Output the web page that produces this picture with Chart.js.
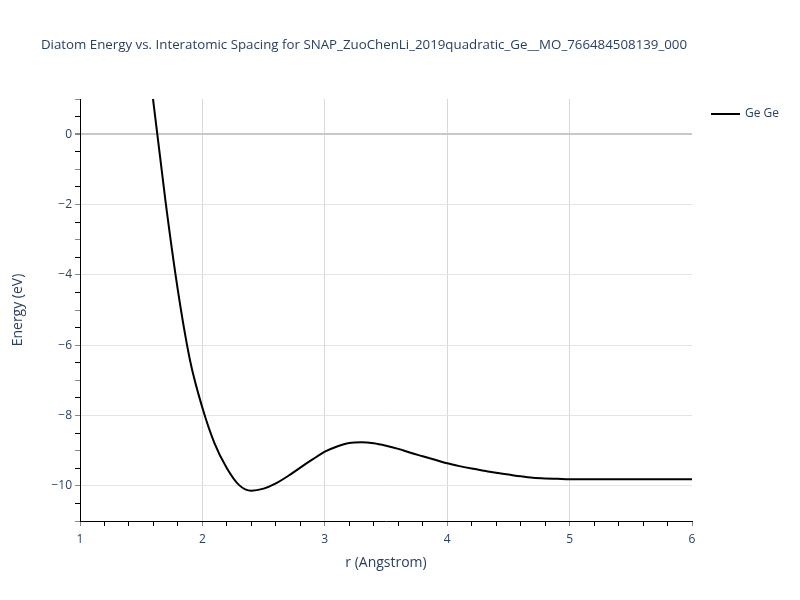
<!DOCTYPE html>
<html>
<head>
<meta charset="utf-8">
<script src="https://cdn.jsdelivr.net/npm/chart.js@4/dist/chart.umd.min.js"></script>
<style>
html,body{margin:0;padding:0;background:#fff;}
#wrap{width:800px;height:600px;position:relative;}
</style>
</head>
<body>
<div id="wrap"><canvas id="c" width="800" height="600"></canvas></div>
<script>
const chartTitle = "Diatom Energy vs. Interatomic Spacing for SNAP_ZuoChenLi_2019quadratic_Ge__MO_766484508139_000";
const seriesName = "Ge Ge";
const rValues = [1.5, 1.6, 1.7, 1.8, 1.9, 2.0, 2.1, 2.2, 2.3, 2.4, 2.5, 2.6, 2.7, 2.8, 2.9, 3.0,
  3.1, 3.2, 3.3, 3.4, 3.5, 3.6, 3.7, 3.8, 3.9, 4.0, 4.1, 4.2, 4.3, 4.4, 4.5, 4.6, 4.7, 4.8, 4.9,
  5.0, 5.1, 5.2, 5.3, 5.4, 5.5, 5.6, 5.7, 5.8, 5.9, 6.0];
const energyValues = [4.1, 0.9, -1.95, -4.45, -6.45, -7.78, -8.8, -9.5, -9.98, -10.14, -10.08, -9.93,
  -9.72, -9.48, -9.25, -9.03, -8.88, -8.78, -8.76, -8.79, -8.86, -8.95, -9.06, -9.16, -9.26, -9.36,
  -9.44, -9.51, -9.57, -9.63, -9.68, -9.73, -9.77, -9.79, -9.80, -9.81, -9.81, -9.81, -9.81, -9.81,
  -9.81, -9.81, -9.81, -9.81, -9.81, -9.81];
const xTickLabels = [1, 2, 3, 4, 5, 6];
const yTickLabels = [0, -2, -4, -6, -8, -10];

const FONT = "'Open Sans', 'Noto Sans', sans-serif";
const TXT = '#2a3f5f';
const isInt = v => Math.abs(v - Math.round(v)) < 1e-6;
const inList = (v, list) => list.some(t => Math.abs(t - v) < 1e-6);

const overlay = {
  id: 'overlay',
  afterDraw(chart) {
    const ctx = chart.ctx;
    ctx.save();
    ctx.fillStyle = TXT;
    ctx.font = "13.3px " + FONT;
    ctx.textAlign = 'center';
    ctx.textBaseline = 'middle';
    ctx.fillText(chartTitle, 364, 45);
    // legend
    ctx.strokeStyle = '#000';
    ctx.lineWidth = 2;
    ctx.beginPath();
    ctx.moveTo(711, 114);
    ctx.lineTo(740, 114);
    ctx.stroke();
    ctx.textAlign = 'left';
    ctx.font = "12px " + FONT;
    ctx.fillText(seriesName, 745, 114);
    ctx.restore();
  }
};

new Chart(document.getElementById('c'), {
  type: 'line',
  data: {
    datasets: [{
      label: seriesName,
      data: rValues.map((r, i) => ({x: r, y: energyValues[i]})),
      borderColor: '#000',
      borderWidth: 2,
      pointRadius: 0,
      cubicInterpolationMode: 'monotone',
      fill: false
    }]
  },
  plugins: [overlay],
  options: {
    responsive: false,
    animation: false,
    devicePixelRatio: 1,
    layout: {padding: {top: 99, right: 108, left: 0, bottom: 0}},
    plugins: {legend: {display: false}, title: {display: false}, tooltip: {enabled: false}},
    scales: {
      x: {
        type: 'linear', min: 1, max: 6,
        afterFit: s => { s.height = 79; },
        border: {display: true, color: '#000', width: 1},
        grid: {
          color: ctx => (ctx.tick && isInt(ctx.tick.value) && ctx.tick.value > 1 && ctx.tick.value < 6) ? '#d9d9d9' : 'rgba(0,0,0,0)',
          tickColor: ctx => (ctx.tick && isInt(ctx.tick.value)) ? '#888' : '#000',
          tickLength: 5,
          drawTicks: true
        },
        ticks: {
          stepSize: 0.2,
          autoSkip: false,
          maxRotation: 0,
          padding: 6,
          color: TXT,
          font: {family: FONT, size: 12},
          callback: v => inList(v, xTickLabels) ? String(Math.round(v)) : ''
        },
        title: {display: true, text: 'r (Angstrom)', color: TXT, font: {family: FONT, size: 14}, padding: {top: 0, bottom: 29}}
      },
      y: {
        type: 'linear', min: -11, max: 1,
        afterFit: s => { s.width = 80; },
        border: {display: true, color: '#000', width: 1},
        grid: {
          color: ctx => {
            if (!ctx.tick) return 'rgba(0,0,0,0)';
            const v = ctx.tick.value;
            if (Math.abs(v) < 1e-6) return '#c8c8c8';
            return inList(v, yTickLabels) ? '#e4e4e4' : 'rgba(0,0,0,0)';
          },
          lineWidth: ctx => (ctx.tick && Math.abs(ctx.tick.value) < 1e-6) ? 2 : 1,
          tickColor: ctx => (ctx.tick && isInt(ctx.tick.value)) ? '#888' : '#000',
          tickLength: 5,
          drawTicks: true
        },
        ticks: {
          stepSize: 0.5,
          autoSkip: false,
          padding: 3,
          color: TXT,
          font: {family: FONT, size: 12},
          callback: v => inList(v, yTickLabels) ? (v < 0 ? '\u2212' + Math.abs(Math.round(v)) : String(Math.round(v))) : ''
        },
        title: {display: true, text: 'Energy (eV)', color: TXT, font: {family: FONT, size: 14}, padding: {top: 10, bottom: 0}}
      }
    }
  }
});
</script>
</body>
</html>
